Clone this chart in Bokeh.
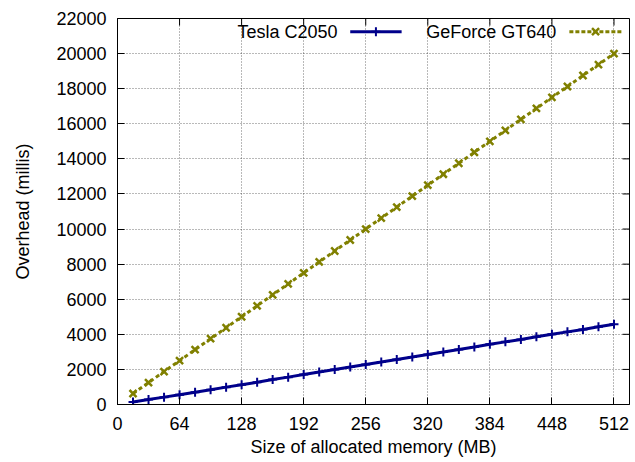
from bokeh.plotting import figure
from bokeh.models import Range1d, FixedTicker
from bokeh.core.properties import value
from bokeh.embed import file_html
from bokeh.resources import INLINE

# ---- data ----
memory_mb = [16, 32, 48, 64, 80, 96, 112, 128, 144, 160, 176, 192, 208, 224, 240, 256,
             272, 288, 304, 320, 336, 352, 368, 384, 400, 416, 432, 448, 464, 480, 496, 512]
tesla_c2050 = [140, 280, 420, 560, 700, 840, 990, 1130, 1270, 1420, 1560, 1710, 1850, 1990, 2140, 2280,
               2420, 2570, 2710, 2850, 2990, 3140, 3280, 3430, 3570, 3710, 3860, 4000, 4140, 4280, 4430, 4570]
geforce_gt640 = [625, 1250, 1875, 2500, 3125, 3750, 4375, 5000, 5625, 6250, 6875, 7500, 8125, 8750, 9375, 10000,
                 10625, 11250, 11875, 12500, 13125, 13750, 14375, 15000, 15625, 16250, 16875, 17500, 18125, 18750, 19375, 20000]
x_ticks = [0, 64, 128, 192, 256, 320, 384, 448, 512]
y_ticks = [0, 2000, 4000, 6000, 8000, 10000, 12000, 14000, 16000, 18000, 20000, 22000]
series_names = ["Tesla C2050", "GeForce GT640"]
x_label = "Size of allocated memory (MB)"
y_label = "Overhead (millis)"

FONT = "Liberation Sans"
BLUE = "#00008b"
OLIVE = "#808000"
X_MAX = 528
Y_MAX = 22000

W, H = 634, 461
p = figure(width=W, height=H, output_backend="svg", toolbar_location=None,
           x_range=Range1d(0, X_MAX), y_range=Range1d(0, Y_MAX),
           min_border_left=117, min_border_right=W - 629, min_border_top=18,
           min_border_bottom=H - 404)
p.background_fill_color = "white"
p.border_fill_color = "white"
p.outline_line_color = "black"
p.outline_line_width = 1

def style_axis(ax, ticks):
    ax.ticker = FixedTicker(ticks=ticks)
    ax.major_tick_in = 7
    ax.major_tick_out = 0
    ax.major_tick_line_color = "black"
    ax.minor_tick_line_color = None
    ax.axis_line_color = "black"
    ax.major_label_text_font = FONT
    ax.major_label_text_font_size = "18px"
    ax.major_label_text_color = "black"
    ax.axis_label_text_font = FONT
    ax.axis_label_text_font_size = "18px"
    ax.axis_label_text_font_style = "normal"
    ax.axis_label_text_color = "black"

style_axis(p.xaxis[0], x_ticks)
style_axis(p.yaxis[0], y_ticks)
p.xaxis[0].axis_label = x_label
p.yaxis[0].axis_label = y_label
p.xaxis[0].major_label_standoff = 12
p.yaxis[0].major_label_standoff = 11
p.xaxis[0].axis_label_standoff = 4
p.yaxis[0].axis_label_standoff = 20

p.xgrid.ticker = FixedTicker(ticks=x_ticks)
p.ygrid.ticker = FixedTicker(ticks=y_ticks)
for g in (p.xgrid[0], p.ygrid[0]):
    g.grid_line_color = "black"
    g.grid_line_alpha = 0.55
    g.grid_line_dash = "1 2"
    g.grid_line_width = 1

# mirrored inward ticks on the top and right borders (gnuplot style)
frame_w = 629 - 117
frame_h = 404 - 18
tick_dy = 7 * Y_MAX / frame_h
tick_dx = 7 * X_MAX / frame_w
p.segment(x0=x_ticks, y0=[Y_MAX] * len(x_ticks), x1=x_ticks, y1=[Y_MAX - tick_dy] * len(x_ticks),
          line_color="black", line_width=1)
p.segment(x0=[X_MAX] * len(y_ticks), y0=y_ticks, x1=[X_MAX - tick_dx] * len(y_ticks), y1=y_ticks,
          line_color="black", line_width=1)

# series
p.line(memory_mb, geforce_gt640, line_color=OLIVE, line_width=3, line_dash="4 3")
p.scatter(memory_mb, geforce_gt640, marker="x", size=10, line_color=OLIVE, line_width=2.5)
p.line(memory_mb, tesla_c2050, line_color=BLUE, line_width=3)
p.scatter(memory_mb, tesla_c2050, marker="cross", size=9, line_color=BLUE, line_width=2)

# gnuplot-style key (text right-justified, sample to its right)
key_y = 21250
p.text(x=[227], y=[key_y], text=[series_names[0]], text_align="right", text_baseline="middle",
       text_font=value(FONT), text_font_size="18px", text_color="black")
p.line([240, 293], [key_y, key_y], line_color=BLUE, line_width=3)
p.scatter([266.5], [key_y], marker="cross", size=9, line_color=BLUE, line_width=2)
p.text(x=[452.5], y=[key_y], text=[series_names[1]], text_align="right", text_baseline="middle",
       text_font=value(FONT), text_font_size="18px", text_color="black")
p.line([466, 520], [key_y, key_y], line_color=OLIVE, line_width=3, line_dash="4 2")
p.scatter([493], [key_y], marker="x", size=10, line_color=OLIVE, line_width=2.5)

open("out.html", "w").write(file_html(p, INLINE))
